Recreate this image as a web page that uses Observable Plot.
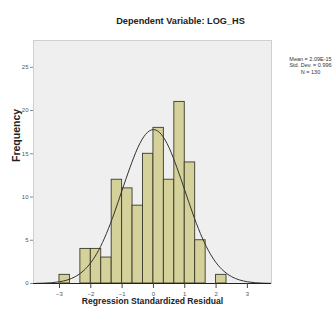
<!DOCTYPE html>
<html>
<head>
<meta charset="utf-8">
<script src="https://cdn.jsdelivr.net/npm/d3@7"></script>
<script src="https://cdn.jsdelivr.net/npm/@observablehq/plot@0.6"></script>
<style>
  html, body { margin: 0; padding: 0; background: #fff; }
  svg { font-family: "Liberation Sans", Arial, sans-serif; }
</style>
</head>
<body>
<div id="chart"></div>
<script>
// Histogram bins (regression standardized residual) and counts
const binLo  = [-3, -2.667, -2.333, -2, -1.667, -1.333, -1, -0.667, -0.333, 0, 0.333, 0.667, 1, 1.333, 1.667, 2];
const binHi  = [-2.667, -2.333, -2, -1.667, -1.333, -1, -0.667, -0.333, 0, 0.333, 0.667, 1, 1.333, 1.667, 2, 2.333];
const counts = [1, 0, 4, 4, 3, 12, 11, 9, 15, 18, 12, 21, 14, 5, 0, 1];

// Normal curve
const curveX = [-3.75, -3.5, -3.25, -3, -2.75, -2.5, -2.25, -2, -1.75, -1.5, -1.25, -1, -0.75, -0.5, -0.25, 0,
                0.25, 0.5, 0.75, 1, 1.25, 1.5, 1.75, 2, 2.25, 2.5, 2.75, 3, 3.25, 3.5, 3.75];
const curveY = [0.02, 0.04, 0.09, 0.2, 0.41, 0.78, 1.42, 2.41, 3.85, 5.78, 8.15, 10.8, 13.4, 15.7, 17.25, 17.8,
                17.25, 15.7, 13.4, 10.8, 8.15, 5.78, 3.85, 2.41, 1.42, 0.78, 0.41, 0.2, 0.09, 0.04, 0.02];

const xTicks = [-3, -2, -1, 0, 1, 2, 3];
const yTicks = [0, 5, 10, 15, 20, 25];

const title = "Dependent Variable: LOG_HS";
const xLabel = "Regression Standardized Residual";
const yLabel = "Frequency";
const legendLines = ["Mean = 2.09E-15", "Std. Dev. = 0.996", "N = 130"];

const bins = counts.map((c, i) => ({x1: binLo[i], x2: binHi[i], y: c})).filter(d => d.y > 0);
const curve = curveX.map((x, i) => ({x, y: curveY[i]}));

const chart = Plot.plot({
  width: 335,
  height: 322,
  marginLeft: 33,
  marginRight: 64,
  marginTop: 40,
  marginBottom: 39,
  style: {background: "#fff", fontFamily: "'Liberation Sans', Arial, sans-serif"},
  x: {domain: [-3.83, 3.77]},
  y: {domain: [0, 28.1]},
  marks: [
    Plot.frame({fill: "#efefef", stroke: "#cfcfcf"}),
    Plot.rectY(bins, {x1: "x1", x2: "x2", y: "y", fill: "#d5d19b", stroke: "#3a3a2a", strokeWidth: 0.9}),
    Plot.line(curve, {x: "x", y: "y", stroke: "#333", strokeWidth: 1, curve: "natural", clip: true}),
    Plot.ruleY([0], {stroke: "#222", strokeWidth: 1.2}),
    Plot.axisX({ticks: xTicks, tickSize: 5, tickPadding: 3, fontSize: 6, color: "#555", label: null, stroke: "#444"}),
    Plot.axisY({ticks: yTicks, tickSize: 3, tickPadding: 2, fontSize: 6, color: "#555", label: null, stroke: "#888"}),
    Plot.text([title], {frameAnchor: "top", dx: 28, dy: -23, fontSize: 9.2, fontWeight: "bold", fill: "#222"}),
    Plot.text([xLabel], {frameAnchor: "bottom", dy: 20, fontSize: 8.6, fontWeight: "bold", fill: "#222"}),
    Plot.text([yLabel], {frameAnchor: "left", dx: -17, rotate: -90, fontSize: 10.5, fontWeight: "bold", fill: "#222"}),
    Plot.text([legendLines.join("\n")], {frameAnchor: "top-right", dx: 39, dy: 16, textAnchor: "middle", lineAnchor: "top", lineHeight: 1.15, fontSize: 5.5, fill: "#333"})
  ]
});
document.getElementById("chart").appendChild(chart);
</script>
</body>
</html>
